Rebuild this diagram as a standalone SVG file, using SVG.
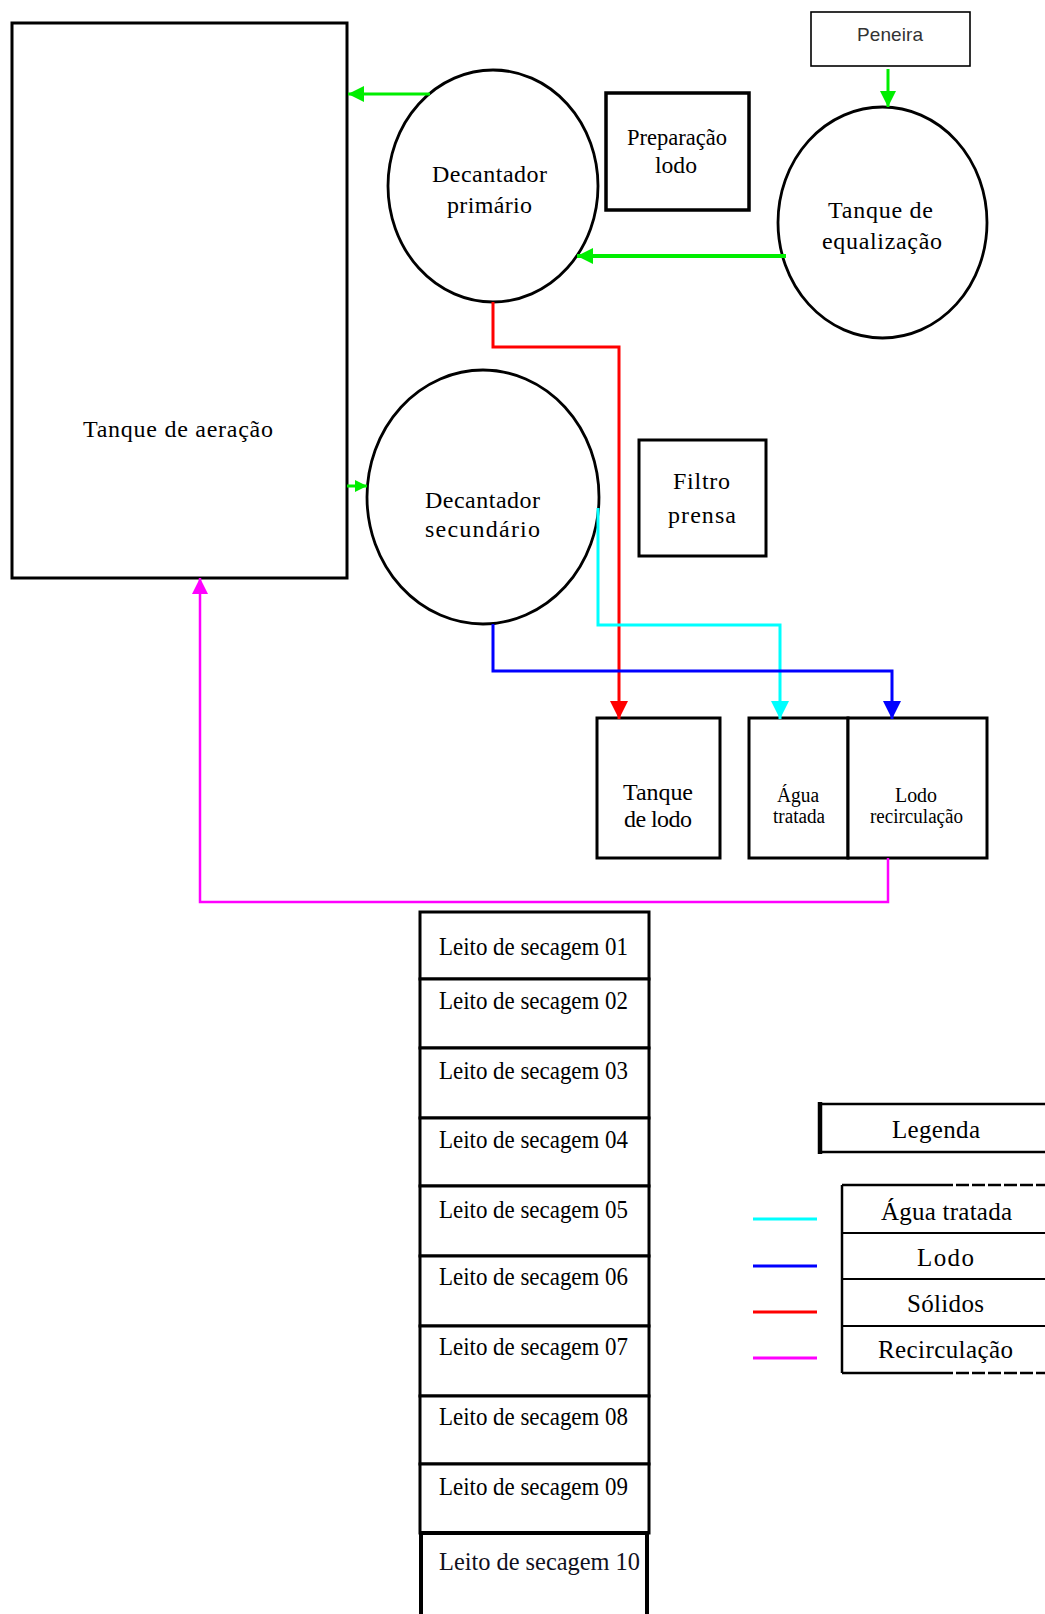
<svg xmlns="http://www.w3.org/2000/svg" width="1045" height="1614" viewBox="0 0 1045 1614">
<style>
  .box{fill:#fff;stroke:#000;stroke-width:3}
  .circ{fill:#fff;stroke:#000;stroke-width:2.8}
  .t{font-family:"Liberation Serif","Times New Roman",serif;font-size:24px;fill:#000}
  .tb{font-family:"Liberation Serif","Times New Roman",serif;font-size:26px;fill:#000}
  .ts{font-family:"Liberation Serif","Times New Roman",serif;font-size:20px;fill:#000}
  .tl{font-family:"Liberation Serif","Times New Roman",serif;font-size:25px;fill:#000}
  .sans{font-family:"Liberation Sans",Arial,sans-serif;font-size:19px;fill:#333}
  .c{fill:none;stroke-linejoin:miter}
</style>
<defs>
  <marker id="ag" viewBox="0 0 16 16" refX="16" refY="8" markerWidth="16" markerHeight="16" markerUnits="userSpaceOnUse" orient="auto"><path d="M0,0 L16,8 L0,16 z" fill="#00ee00"/></marker>
  <marker id="ags" viewBox="0 0 12 12" refX="12" refY="6" markerWidth="12" markerHeight="12" markerUnits="userSpaceOnUse" orient="auto"><path d="M0,0 L12,6 L0,12 z" fill="#00ee00"/></marker>
  <marker id="ar" viewBox="0 0 18 18" refX="18" refY="9" markerWidth="18" markerHeight="18" markerUnits="userSpaceOnUse" orient="auto"><path d="M0,0 L18,9 L0,18 z" fill="#ff0000"/></marker>
  <marker id="ac" viewBox="0 0 18 18" refX="18" refY="9" markerWidth="18" markerHeight="18" markerUnits="userSpaceOnUse" orient="auto"><path d="M0,0 L18,9 L0,18 z" fill="#00ffff"/></marker>
  <marker id="ab" viewBox="0 0 18 18" refX="18" refY="9" markerWidth="18" markerHeight="18" markerUnits="userSpaceOnUse" orient="auto"><path d="M0,0 L18,9 L0,18 z" fill="#0000ff"/></marker>
  <marker id="am" viewBox="0 0 16 16" refX="16" refY="8" markerWidth="16" markerHeight="16" markerUnits="userSpaceOnUse" orient="auto"><path d="M0,0 L16,8 L0,16 z" fill="#ff00ff"/></marker>
</defs>
<rect width="1045" height="1614" fill="#fff"/>

<g id="tanque-aeracao">
  <rect class="box" x="12" y="23" width="335" height="555"/>
  <text class="t" x="83" y="437" textLength="190" lengthAdjust="spacing">Tanque de aeração</text>
</g>

<g id="decantador-primario">
  <ellipse class="circ" cx="493" cy="186" rx="105" ry="116"/>
  <text class="t" x="432" y="182" textLength="115" lengthAdjust="spacing">Decantador</text>
  <text class="t" x="447" y="213" textLength="85" lengthAdjust="spacing">primário</text>
</g>

<g id="preparacao-lodo">
  <rect class="box" x="606" y="93" width="143" height="117" style="stroke-width:3.5"/>
  <text class="t" x="627" y="145" textLength="100" lengthAdjust="spacingAndGlyphs">Preparação</text>
  <text class="t" x="655" y="173" textLength="42" lengthAdjust="spacingAndGlyphs">lodo</text>
</g>

<g id="peneira">
  <rect class="box" x="811" y="12" width="159" height="54" style="stroke-width:1.6"/>
  <text class="sans" x="857" y="41" textLength="66" lengthAdjust="spacing">Peneira</text>
</g>

<g id="tanque-equalizacao">
  <ellipse class="circ" cx="882.5" cy="222.5" rx="104.5" ry="115.5"/>
  <text class="t" x="828" y="218" textLength="105" lengthAdjust="spacing">Tanque de</text>
  <text class="t" x="822" y="249" textLength="120" lengthAdjust="spacing">equalização</text>
</g>

<g id="decantador-secundario">
  <ellipse class="circ" cx="483" cy="497" rx="116" ry="127"/>
  <text class="t" x="425" y="508" textLength="115" lengthAdjust="spacing">Decantador</text>
  <text class="t" x="425" y="537" textLength="115" lengthAdjust="spacing">secundário</text>
</g>

<g id="filtro-prensa">
  <rect class="box" x="639" y="440" width="127" height="116"/>
  <text class="t" x="673" y="489" textLength="57" lengthAdjust="spacing">Filtro</text>
  <text class="t" x="668" y="523" textLength="68" lengthAdjust="spacing">prensa</text>
</g>

<g id="tanque-lodo">
  <rect class="box" x="597" y="718" width="123" height="140"/>
  <text class="t" x="623" y="800" textLength="70" lengthAdjust="spacing">Tanque</text>
  <text class="t" x="624" y="827" textLength="68" lengthAdjust="spacing">de lodo</text>
</g>

<g id="agua-tratada">
  <rect class="box" x="749" y="718" width="99" height="140"/>
  <text class="ts" x="777" y="802" textLength="42" lengthAdjust="spacingAndGlyphs">Água</text>
  <text class="ts" x="773" y="823" textLength="52" lengthAdjust="spacingAndGlyphs">tratada</text>
</g>

<g id="lodo-recirculacao">
  <rect class="box" x="848" y="718" width="139" height="140"/>
  <text class="ts" x="895" y="802" textLength="42" lengthAdjust="spacingAndGlyphs">Lodo</text>
  <text class="ts" x="870" y="823" textLength="93" lengthAdjust="spacingAndGlyphs">recirculação</text>
</g>

<g id="leito-01"><rect class="box" x="420" y="912" width="229" height="67"/><text class="tb" x="439" y="955" textLength="189" lengthAdjust="spacingAndGlyphs">Leito de secagem 01</text></g>
<g id="leito-02"><rect class="box" x="420" y="979" width="229" height="69"/><text class="tb" x="439" y="1009" textLength="189" lengthAdjust="spacingAndGlyphs">Leito de secagem 02</text></g>
<g id="leito-03"><rect class="box" x="420" y="1048" width="229" height="70"/><text class="tb" x="439" y="1079" textLength="189" lengthAdjust="spacingAndGlyphs">Leito de secagem 03</text></g>
<g id="leito-04"><rect class="box" x="420" y="1118" width="229" height="68"/><text class="tb" x="439" y="1148" textLength="189" lengthAdjust="spacingAndGlyphs">Leito de secagem 04</text></g>
<g id="leito-05"><rect class="box" x="420" y="1186" width="229" height="70"/><text class="tb" x="439" y="1218" textLength="189" lengthAdjust="spacingAndGlyphs">Leito de secagem 05</text></g>
<g id="leito-06"><rect class="box" x="420" y="1256" width="229" height="70"/><text class="tb" x="439" y="1285" textLength="189" lengthAdjust="spacingAndGlyphs">Leito de secagem 06</text></g>
<g id="leito-07"><rect class="box" x="420" y="1326" width="229" height="70"/><text class="tb" x="439" y="1355" textLength="189" lengthAdjust="spacingAndGlyphs">Leito de secagem 07</text></g>
<g id="leito-08"><rect class="box" x="420" y="1396" width="229" height="68"/><text class="tb" x="439" y="1425" textLength="189" lengthAdjust="spacingAndGlyphs">Leito de secagem 08</text></g>
<g id="leito-09"><rect class="box" x="420" y="1464" width="229" height="69"/><text class="tb" x="439" y="1495" textLength="189" lengthAdjust="spacingAndGlyphs">Leito de secagem 09</text></g>
<g id="leito-10"><rect class="box" x="421" y="1533" width="226" height="100" style="stroke-width:4"/><text class="tb" x="439" y="1570" textLength="201" lengthAdjust="spacingAndGlyphs" style="fill:#101020">Leito de secagem 10</text></g>

<g id="legenda">
  <rect class="box" x="820" y="1104" width="240" height="48" style="stroke-width:2.5"/>
  <line x1="820" y1="1102" x2="820" y2="1154" stroke="#000" stroke-width="4.5"/>
  <text class="tl" x="892" y="1138" textLength="88" lengthAdjust="spacing">Legenda</text>
</g>

<g id="legenda-tabela">
  <line x1="842" y1="1185" x2="940" y2="1185" stroke="#000" stroke-width="2.5"/>
  <line x1="940" y1="1185" x2="1045" y2="1185" stroke="#000" stroke-width="2.5" stroke-dasharray="13 3"/>
  <line x1="842" y1="1373" x2="940" y2="1373" stroke="#000" stroke-width="2.5"/>
  <line x1="940" y1="1373" x2="1045" y2="1373" stroke="#000" stroke-width="2.5" stroke-dasharray="13 3"/>
  <line x1="842" y1="1233" x2="1045" y2="1233" stroke="#000" stroke-width="2.2"/>
  <line x1="842" y1="1279" x2="1045" y2="1279" stroke="#000" stroke-width="2.2"/>
  <line x1="842" y1="1326" x2="1045" y2="1326" stroke="#000" stroke-width="2.2"/>
  <line x1="842" y1="1185" x2="842" y2="1373" stroke="#000" stroke-width="2.5"/>
  <text class="tl" x="881" y="1220" textLength="131" lengthAdjust="spacing">Água tratada</text>
  <text class="tl" x="917" y="1266" textLength="57" lengthAdjust="spacing">Lodo</text>
  <text class="tl" x="907" y="1312" textLength="77" lengthAdjust="spacing">Sólidos</text>
  <text class="tl" x="878" y="1358" textLength="135" lengthAdjust="spacing">Recirculação</text>
  <line x1="753" y1="1219" x2="817" y2="1219" stroke="#00ffff" stroke-width="3"/>
  <line x1="753" y1="1266" x2="817" y2="1266" stroke="#0000ff" stroke-width="3"/>
  <line x1="753" y1="1312" x2="817" y2="1312" stroke="#ff0000" stroke-width="3"/>
  <line x1="753" y1="1358" x2="817" y2="1358" stroke="#ff00ff" stroke-width="3"/>
</g>

<g id="connectors">
  <path class="c" d="M430,94 H348" stroke="#00ee00" stroke-width="3" marker-end="url(#ag)"/>
  <path class="c" d="M888,69 V107" stroke="#00ee00" stroke-width="3" marker-end="url(#ag)"/>
  <path class="c" d="M786,256 H577" stroke="#00ee00" stroke-width="4" marker-end="url(#ag)"/>
  <path class="c" d="M347,486 H367" stroke="#00ee00" stroke-width="3" marker-end="url(#ags)"/>
  <path class="c" d="M493,302 V347 H619 V719" stroke="#ff0000" stroke-width="3" marker-end="url(#ar)"/>
  <path class="c" d="M598,508 V625 H780 V719" stroke="#00ffff" stroke-width="3" marker-end="url(#ac)"/>
  <path class="c" d="M493,624 V671 H892 V719" stroke="#0000ff" stroke-width="3" marker-end="url(#ab)"/>
  <path class="c" d="M888,858 V902 H200 V578" stroke="#ff00ff" stroke-width="2.5" marker-end="url(#am)"/>
</g>
</svg>
